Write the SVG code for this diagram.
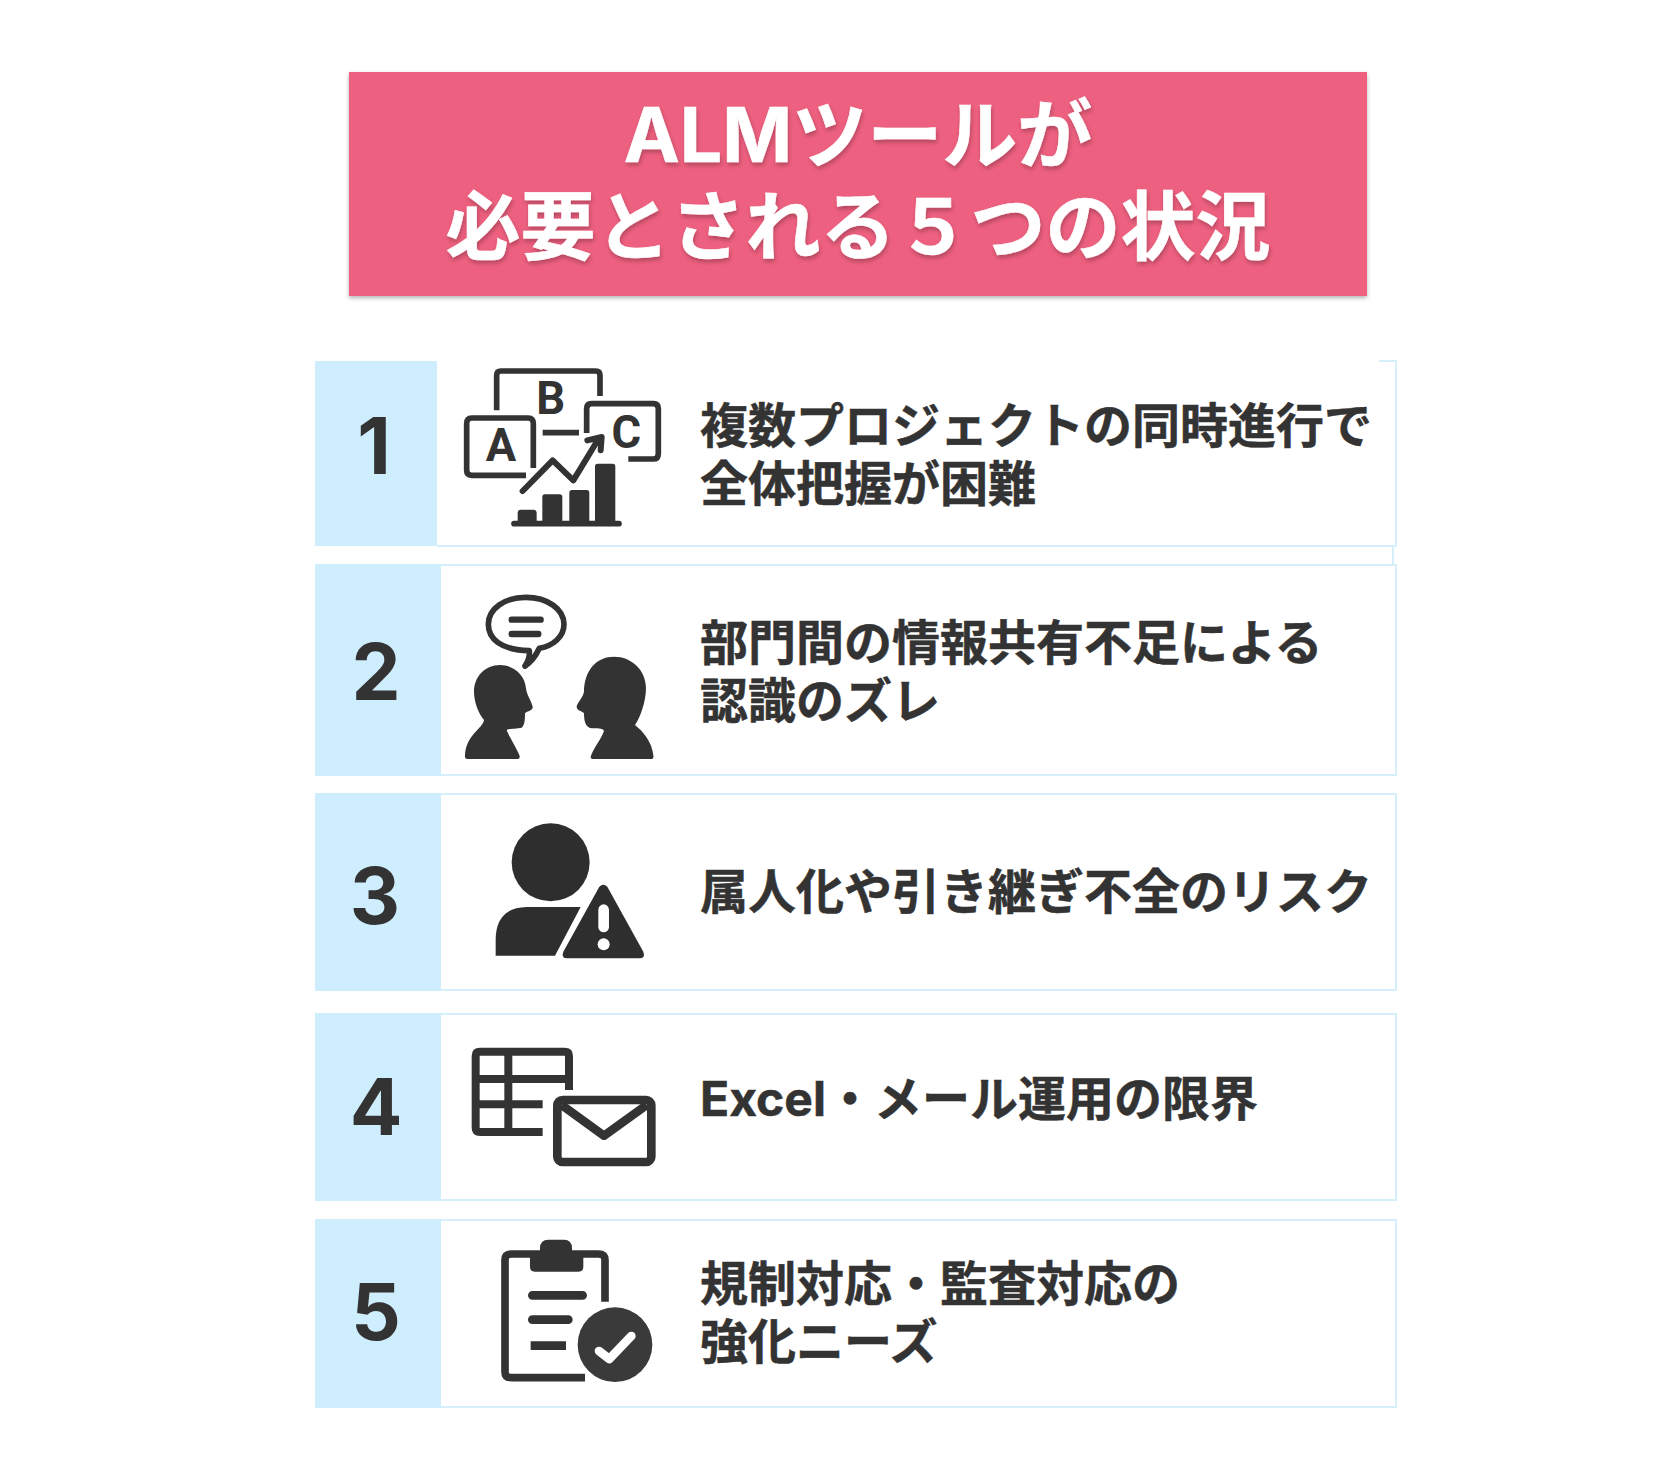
<svg xmlns="http://www.w3.org/2000/svg" width="1679" height="1463" viewBox="0 0 1679 1463">
<defs>
<filter id="bs" x="-5%" y="-10%" width="110%" height="125%"><feDropShadow dx="0" dy="2" stdDeviation="2" flood-color="#000" flood-opacity="0.3"/></filter>
<filter id="ts" x="-5%" y="-10%" width="110%" height="125%"><feDropShadow dx="1" dy="3" stdDeviation="2" flood-color="#000" flood-opacity="0.25"/></filter>
</defs>
<style>
.panel{fill:#fff;stroke:#d6f0fb;stroke-width:2}
.edge{fill:none;stroke:#d6f0fb;stroke-width:2}
.tab{fill:#cfeefd}
.num{font-family:"Inter","Liberation Sans",sans-serif;font-weight:700;font-size:78px;fill:#333;text-anchor:middle}
.t{font-family:"Inter","Noto Sans CJK JP",sans-serif;font-weight:700;font-size:48px;fill:#333;stroke:#333;stroke-width:.5}
.title{font-family:"Inter","Noto Sans CJK JP",sans-serif;font-weight:700;font-size:75px;fill:#fff;stroke:#fff;stroke-width:.6;text-anchor:middle;filter:url(#ts)}
.ln{fill:none;stroke:#333;stroke-linecap:butt;stroke-linejoin:round}
.rd{fill:none;stroke:#333;stroke-linecap:round;stroke-linejoin:round}
.fl{fill:#333}
.ltr{font-family:"Roboto","Liberation Sans",sans-serif;font-weight:700;font-size:136px;fill:#333;text-anchor:middle}
</style>
<rect width="1679" height="1463" fill="#fff"/>
<g id="title">
<rect x="349" y="72" width="1018" height="224" fill="#ee617f" filter="url(#bs)"/>
<text class="title" x="858" y="162">ALMツールが</text>
<text class="title" x="858" y="254">必要とされる５つの状況</text>
</g>
<g id="item1">
<path class="edge" d="M437,546H1396V361H1379M1393,546V565"/>
<rect class="tab" x="315" y="361" width="122" height="185"/>
<text class="num" x="374" y="474">1</text>
<g transform="translate(450 362) scale(.3333)">
<path class="ln" stroke-width="17" d="M140,145V40Q140,27 153,27H437Q450,27 450,40V102"/>
<path class="ln" stroke-width="17" d="M250,318V185Q250,168 235,168H65Q50,168 50,185V325Q50,340 65,340H228"/>
<path class="ln" stroke-width="17" d="M410,213V140Q410,125 425,125H610Q625,125 625,140V275Q625,291 610,291H535"/>
<path class="ln" stroke-width="17" d="M278,212H387"/>
<text class="ltr" x="302" y="155">B</text>
<text class="ltr" x="153" y="297">A</text>
<text class="ltr" x="529" y="258">C</text>
<path class="rd" stroke-width="18" d="M218,387L308,295L370,355L440,240M412,235L455,225L452,265"/>
<path class="fl" d="M203,480V453Q203,443 213,443H250Q260,443 260,453V480ZM277,480V405Q277,397 285,397H329Q337,397 337,405V480ZM358,480V392Q358,384 366,384H410Q418,384 418,392V480ZM435,480V313Q435,305 443,305H488Q496,305 496,313V480Z"/>
<path class="rd" stroke-width="17" d="M192,485H507"/>
</g>
<text class="t" x="700" y="443">複数プロジェクトの同時進行で</text>
<text class="t" x="700" y="501">全体把握が困難</text>
</g>
<g id="item2">
<rect class="panel" x="316" y="565" width="1080" height="210"/>
<rect class="tab" x="315" y="564" width="126" height="212"/>
<text class="num" x="376" y="700">2</text>
<g transform="translate(450 585) scale(.3333)">
<path fill="#fff" stroke="#333" stroke-width="17" stroke-linejoin="round" d="M238,197C150,195 115,160 115,118C115,70 165,37 228,37C292,37 342,72 342,118C342,155 310,182 268,190Q250,228 225,243Q240,222 238,197Z"/>
<path class="rd" stroke-width="19" d="M185,104H272M185,147H265"/>
<path class="fl" d="M45,515Q45,522 52,522H203Q212,522 208,510C195,480 175,450 170,435C172,430 200,432 215,428C225,420 225,400 225,385C228,378 250,378 248,365C245,350 230,330 228,310C225,270 190,240 150,240C105,240 72,275 72,320C72,350 85,385 102,405C100,430 45,450 45,515Z"/>
<path class="fl" d="M422,515Q422,522 430,522H605Q612,522 610,510C605,470 580,440 555,420C570,400 588,350 588,310C588,255 545,215 492,215C440,215 403,255 402,320C398,340 380,355 380,365C380,378 400,378 402,385C402,405 405,428 425,430C440,432 458,428 462,438C455,460 430,490 422,515Z"/>
</g>
<text class="t" x="700" y="660">部門間の情報共有不足による</text>
<text class="t" x="700" y="718">認識のズレ</text>
</g>
<g id="item3">
<rect class="panel" x="316" y="794" width="1080" height="196"/>
<rect class="tab" x="315" y="793" width="126" height="198"/>
<text class="num" x="375" y="924">3</text>
<g transform="translate(480 815) scale(.3333)">
<circle cx="212" cy="142" r="117" fill="#2e2e2e"/>
<path fill="#2e2e2e" d="M47,422V375Q47,278 140,276H302L225,422Z"/>
<path fill="#2e2e2e" d="M358,215Q370,203 382,215L490,410Q497,430 478,430H262Q243,430 250,410Z"/>
<rect x="355" y="268" width="32" height="84" rx="16" fill="#fff"/>
<circle cx="371" cy="388" r="18" fill="#fff"/>
</g>
<text class="t" x="700" y="909">属人化や引き継ぎ不全のリスク</text>
</g>
<g id="item4">
<rect class="panel" x="316" y="1014" width="1080" height="186"/>
<rect class="tab" x="315" y="1013" width="126" height="188"/>
<text class="num" x="376" y="1135">4</text>
<g transform="translate(460 1040) scale(.3333)">
<path class="ln" stroke-width="24" d="M327,150V48Q327,35 314,35H60Q47,35 47,48V263Q47,276 60,276H248M47,117H327M47,193H248M145,35V276"/>
<rect class="ln" stroke-width="26" x="292" y="180" width="282" height="186" rx="16"/>
<path class="ln" stroke-width="26" d="M305,195L432,287L560,195"/>
</g>
<text class="t" x="700" y="1116">Excel・メール運用の限界</text>
</g>
<g id="item5">
<rect class="panel" x="316" y="1220" width="1080" height="187"/>
<rect class="tab" x="315" y="1219" width="126" height="189"/>
<text class="num" x="376" y="1340">5</text>
<g transform="translate(490 1235) scale(.3333)">
<path class="ln" stroke-width="23" d="M345,200V75Q345,57 325,57H65Q45,57 45,75V410Q45,428 65,428H285"/>
<path class="fl" d="M150,60V40Q150,14 175,14H222Q246,14 246,40V60H280V95Q280,110 265,110H135Q120,110 120,95V60Z"/>
<path class="rd" stroke-width="26" d="M127,181H278M127,254H235"/>
<path class="ln" stroke-width="26" d="M122,332H228"/>
<circle cx="375" cy="329" r="112" fill="#3a3a3a"/>
<path fill="none" stroke="#fff" stroke-width="26" stroke-linecap="round" stroke-linejoin="round" d="M327,348L358,372L424,303"/>
</g>
<text class="t" x="700" y="1301">規制対応・監査対応の</text>
<text class="t" x="700" y="1359">強化ニーズ</text>
</g>
</svg>
